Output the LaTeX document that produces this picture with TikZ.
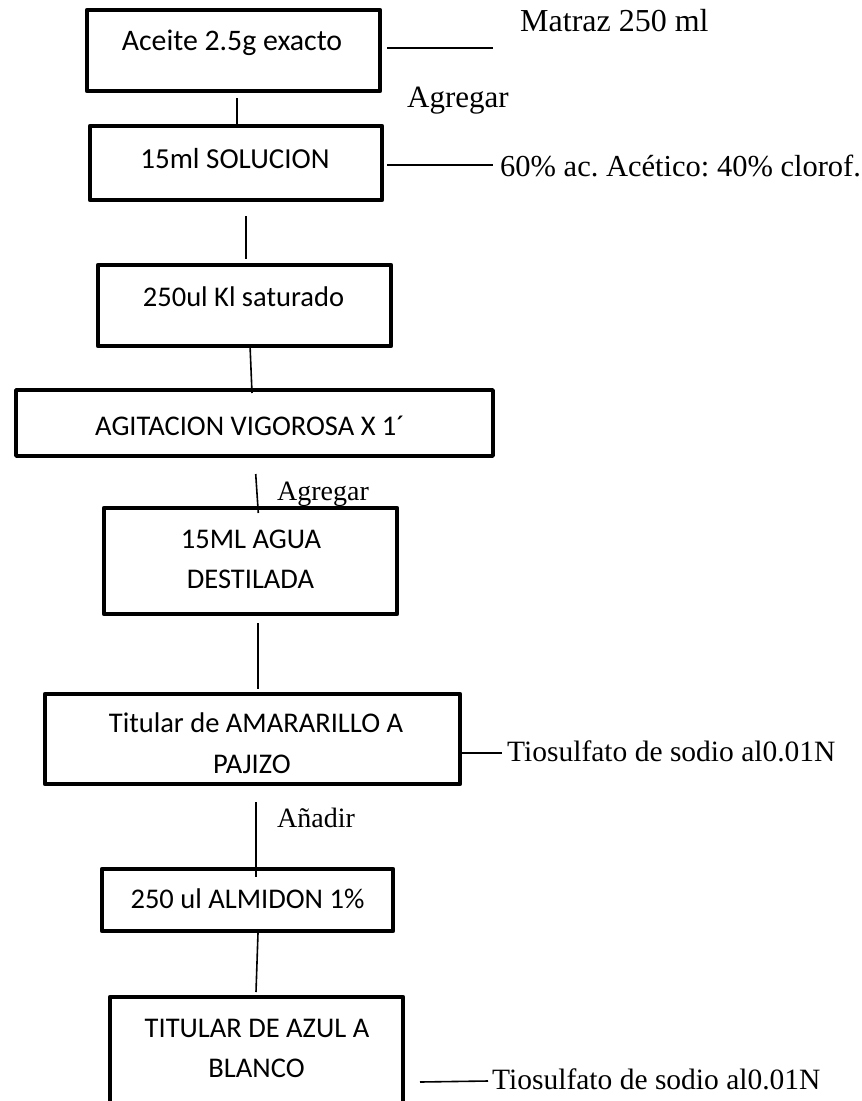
\documentclass[tikz,border=0pt]{standalone}
\usepackage{fontspec}
\setmainfont{Liberation Serif}
\newfontfamily\boxfont{Carlito}
\frenchspacing
\begin{document}
\begin{tikzpicture}[x=1pt,y=-1pt,
  stepbox/.style={draw, line width=4.5pt, line join=round, inner sep=0pt, outer sep=0pt},
  boxtext/.style={font=\boxfont\fontsize{28.5}{34}\selectfont, anchor=base, inner sep=0pt},
  note/.style={font=\fontsize{29.5}{34}\selectfont, anchor=base west, inner sep=0pt},
  link/.style={line width=1.6pt}]
\useasboundingbox (0,0) rectangle (862,1101);
\clip (0,0) rectangle (862,1101);

% process steps
\node[stepbox, minimum width=293pt, minimum height=81pt]  (b1) at (233.5,50.5) {};
\node[stepbox, minimum width=292pt, minimum height=74pt]  (b2) at (236,163) {};
\node[stepbox, minimum width=293pt, minimum height=81pt]  (b3) at (244.5,305.5) {};
\node[stepbox, line width=3.8pt, minimum width=477pt, minimum height=66pt] (b4) at (254.5,423) {};
\node[stepbox, minimum width=293pt, minimum height=106pt] (b5) at (250.5,561) {};
\node[stepbox, minimum width=415pt, minimum height=90pt]  (b6) at (252.5,739) {};
\node[stepbox, minimum width=291pt, minimum height=62pt]  (b7) at (247.5,900) {};
\node[stepbox, minimum width=293pt, minimum height=123pt] (b8) at (256.5,1058.5) {};

% step texts
\node[boxtext, font=\boxfont\fontsize{29.8}{34}\selectfont] (t1) at (232,50) {Aceite 2.5g exacto};
\node[boxtext, font=\boxfont\fontsize{29}{34}\selectfont] (t2) at (235,168) {15ml SOLUCION};
\node[boxtext] (t3)  at (243.5,306) {250ul Kl saturado};
\node[boxtext, anchor=base west] (t4) at (95,435) {AGITACION VIGOROSA X 1´};
\node[boxtext] (t5a) at (251,548)  {15ML AGUA};
\node[boxtext] (t5b) at (250.5,588) {DESTILADA};
\node[boxtext] (t6a) at (256,732)  {Titular de AMARARILLO A};
\node[boxtext] (t6b) at (252,773)  {PAJIZO};
\node[boxtext] (t7)  at (247.5,908) {250 ul ALMIDON 1\%};
\node[boxtext] (t8a) at (257,1037) {TITULAR DE AZUL A};
\node[boxtext] (t8b) at (256.5,1077) {BLANCO};

% side notes
\node[note, font=\fontsize{32}{36}\selectfont] (n1) at (520,31) {Matraz 250 ml};
\node[note, font=\fontsize{31}{36}\selectfont] (n2) at (407,107) {Agregar};
\node[note, font=\fontsize{30.5}{36}\selectfont] (n3) at (500,176) {60\% ac. Acético: 40\% clorof.};
\node[note, font=\fontsize{28}{34}\selectfont] (n4) at (277,500) {Agregar};
\node[note] (n5) at (507,761)  {Tiosulfato de sodio al0.01N};
\node[note, font=\fontsize{28}{34}\selectfont] (n6) at (277,827) {Añadir};
\node[note] (n7) at (492,1089) {Tiosulfato de sodio al0.01N};

% connector end points
\coordinate (c1a) at (237,98);   \coordinate (c1b) at (237,124);
\coordinate (c2a) at (246,216);  \coordinate (c2b) at (246,259);
\coordinate (c3a) at (250,345);  \coordinate (c3b) at (252,393);
\coordinate (c4a) at (255.7,474); \coordinate (c4b) at (258.3,513);
\coordinate (c5a) at (258,623);  \coordinate (c5b) at (258,689);
\coordinate (c6a) at (256,802);  \coordinate (c6b) at (256,877);
\coordinate (c7a) at (258,933);  \coordinate (c7b) at (256,992);
\coordinate (s1a) at (387,48);   \coordinate (s1b) at (493,48);
\coordinate (s2a) at (387,165);  \coordinate (s2b) at (493,165);
\coordinate (s6a) at (462,753);  \coordinate (s6b) at (502,753);
\coordinate (s8a) at (420,1082); \coordinate (s8b) at (488,1081);

% flow connectors
\draw[link] (c1a) -- (c1b);
\draw[link] (c2a) -- (c2b);
\draw[link] (c3a) -- (c3b);
\draw[link] (c4a) -- (c4b);
\draw[link] (c5a) -- (c5b);
\draw[link] (c6a) -- (c6b);
\draw[link] (c7a) -- (c7b);

% note leaders
\draw[link] (s1a) -- (s1b);
\draw[link] (s2a) -- (s2b);
\draw[link] (s6a) -- (s6b);
\draw[link] (s8a) -- (s8b);
\end{tikzpicture}
\end{document}
